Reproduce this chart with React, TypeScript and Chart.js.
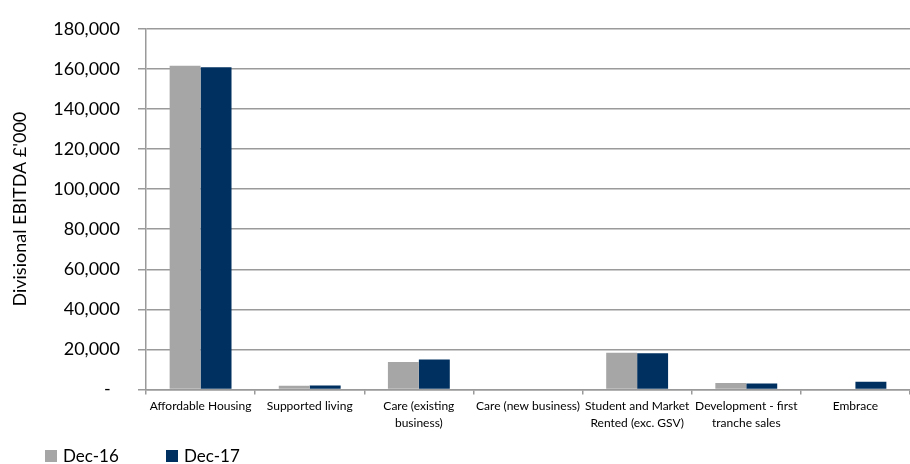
import React, { useEffect, useRef } from "react";
import { Chart, registerables } from "chart.js";

Chart.register(...registerables);

const categories: (string | string[])[] = [
  "Affordable Housing",
  "Supported living",
  ["Care (existing", "business)"],
  "Care (new business)",
  ["Student and Market", "Rented (exc. GSV)"],
  ["Development - first", "tranche sales"],
  "Embrace",
];

const dec16 = [161500, 1900, 13700, 0, 18300, 3200, 0];
const dec17 = [160800, 2000, 15000, 0, 18100, 3000, 3900];

const seriesLabels = ["Dec-16", "Dec-17"];
const seriesColors = ["#A6A6A6", "#00305F"];

const FONT = "Lato, 'Open Sans', sans-serif";
const GRID = "#9A9A9A";

// Bottom-left legend: coloured square followed by the series name.
const bottomLegend = {
  id: "bottomLegend",
  afterDraw(chart: Chart) {
    const ctx = chart.ctx;
    const xs = [45, 166];
    const cy = 456;
    ctx.save();
    ctx.font = `17px ${FONT}`;
    ctx.textBaseline = "middle";
    ctx.textAlign = "left";
    chart.data.datasets.forEach((ds: any, i: number) => {
      ctx.fillStyle = ds.backgroundColor;
      ctx.fillRect(xs[i], cy - 6, 12, 12);
      ctx.fillStyle = "#000";
      ctx.fillText(ds.label, xs[i] + 18, cy + 1);
    });
    ctx.restore();
  },
};

export default function App() {
  const ref = useRef<HTMLCanvasElement>(null);

  useEffect(() => {
    if (!ref.current) return;
    const chart = new Chart(ref.current, {
      type: "bar",
      data: {
        labels: categories,
        datasets: [
          {
            label: seriesLabels[0],
            data: dec16,
            backgroundColor: seriesColors[0],
            categoryPercentage: 0.567,
            barPercentage: 1,
          },
          {
            label: seriesLabels[1],
            data: dec17,
            backgroundColor: seriesColors[1],
            categoryPercentage: 0.567,
            barPercentage: 1,
          },
        ],
      },
      options: {
        animation: false,
        responsive: false,
        maintainAspectRatio: false,
        layout: { padding: { top: 19, right: 0, bottom: 24.5, left: 0 } },
        plugins: {
          legend: { display: false },
          tooltip: { enabled: false },
        },
        scales: {
          x: {
            offset: true,
            grid: {
              offset: true,
              drawOnChartArea: false,
              drawTicks: true,
              tickLength: 5,
              color: GRID,
              lineWidth: 1.5,
            },
            border: { display: true, color: GRID, width: 1.5 },
            ticks: {
              color: "#000",
              font: { family: FONT, size: 12, lineHeight: 1.4 },
              padding: 3,
              maxRotation: 0,
              autoSkip: false,
            },
            afterFit: (s: any) => {
              s.height = 50;
            },
          },
          y: {
            min: 0,
            max: 180000,
            ticks: {
              stepSize: 20000,
              color: "#000",
              font: { family: FONT, size: 18 },
              padding: 18,
              callback: (v: any) =>
                Number(v) === 0 ? "-  " : Number(v).toLocaleString("en-GB"),
            },
            grid: { color: GRID, lineWidth: 1.5, tickLength: 8 },
            border: { display: true, color: GRID, width: 1.5 },
            title: {
              display: true,
              text: "Divisional EBITDA £'000",
              color: "#000",
              font: { family: FONT, size: 18 },
              padding: { top: 9, bottom: 0 },
            },
            afterFit: (s: any) => {
              s.width = 146;
            },
          },
        },
      },
      plugins: [bottomLegend],
    });
    return () => chart.destroy();
  }, []);

  return (
    <div style={{ position: "fixed", left: 0, top: 0, width: 910, height: 464, background: "#fff" }}>
      <canvas ref={ref} width={910} height={464} style={{ width: 910, height: 464 }} />
    </div>
  );
}
